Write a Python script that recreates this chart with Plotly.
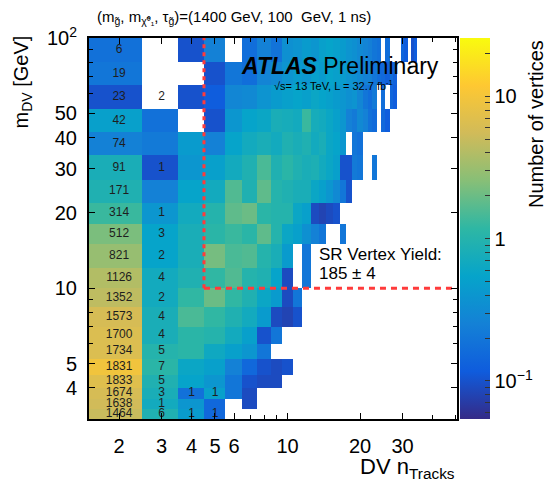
import math
import plotly.graph_objects as go

# ---------------- data ----------------
N = None
# DV nTracks bins (integer bins) and m_DV bin edges [GeV]
ntrk_low, ntrk_high = 2, 50
mass_edges = [3, 3.3, 3.6, 4, 4.5, 5.2, 6, 7, 8.4, 10, 12, 15, 18, 22, 27, 34, 42, 52, 65, 80, 100]

# weighted number of vertices (colour), one list per mass row (bottom -> top), starting at nTracks = 2
row_00 = [5.0, 0.9, 0.45, 0.15]
row_01 = [5.5, 0.7, 0.4, 0.15, N, 0.09]
row_02 = [6.0, 0.8, 0.18, 0.5, 0.2, 0.09]
row_03 = [7.0, 0.9, 0.55, 0.4, 0.2, 0.1, 0.09, 0.09]
row_04 = [9.5, 1.1, 0.6, 0.5, 0.25, 0.15, 0.1, 0.09, 0.1]
row_05 = [6.5, 1.0, 1.1, 0.65, 0.5, 0.4, 0.2]
row_06 = [6.5, 0.8, 1.1, 1.0, 0.7, 0.5, 0.1, 0.2]
row_07 = [6.0, 0.8, 1.5, 1.2, 0.9, 0.7, 0.45, 0.09, 0.08, 0.1]
row_08 = [4.5, 0.7, 1.2, 2.0, 1.2, 0.9, 0.6, 0.45, 0.09, 0.2]
row_09 = [4.0, 0.7, 0.9, 1.2, 1.6, 1.0, 0.9, 0.55, 0.09, N, 0.2]
row_10 = [3.0, 0.55, 0.8, 2.2, 1.5, 1.6, 1.0, 0.8, 0.45, N, 0.2]
row_11 = [2.3, 0.55, 0.8, 1.1, 1.3, 1.1, 1.8, 1.0, 0.6, 0.5, 0.35, 0.25, 0.2, N, N, 0.2]
row_12 = [1.3, 0.4, 0.7, 1.0, 1.8, 2.0, 1.1, 1.0, 1.0, 0.6, 0.5, 0.09, 0.08, 0.09, 0.1]
row_13 = [0.9, 0.25, 0.55, 0.7, 1.6, 0.9, 1.8, 1.0, 0.9, 0.8, 0.8, 0.6, 0.5, 0.4, 0.3, 0.2, 0.1]
row_14 = [0.8, 0.1, 0.4, 0.5, 0.7, 0.9, 1.5, 0.9, 1.1, 0.9, 0.8, 0.85, 0.7, 0.6, 0.5, 0.1, 0.1, 0.22,
          0.2, N, N, 0.2]
row_15 = [0.25, 0.22, 0.45, 0.25, 0.55, 0.7, 0.8, 0.7, 0.9, 0.8, 0.9, 0.7, 0.8, 0.6, 0.55, 0.4, N, 0.2, 0.18]
row_16 = [0.5, 0.18, N, 0.1, 0.4, 0.55, 0.6, 0.8, 0.75, 0.7, 1.3, 0.75, 0.7, 0.6, 0.5, 0.4, 0.25, 0.22,
          0.3, 0.25, 0.18, 0.16, N, 0.15, 0.12]
row_17 = [0.1, N, 0.1, 0.12, 0.28, 0.3, 0.38, 0.45, 0.5, 0.55, 0.5, 0.6, 0.55, 0.5, 0.45, 0.4, 0.35, 0.38,
          0.28, 0.2, 0.17, 0.22, N, 0.17, N, 0.14, 0.12]
row_18 = [0.2, N, N, 0.1, 0.2, 0.17, 0.27, 0.3, 0.38, 0.45, 0.4, 0.5, 0.45, 0.55, 0.5, 0.45, 0.38, 0.35,
          0.3, 0.25, 0.25, 0.2, 0.17, 0.15, 0.13, 0.17, 0.13]
row_19 = [0.18, N, 0.1, 0.25, N, 0.17, 0.25, 0.19, 0.35, 0.38, 0.45, 0.4, 0.5, 0.55, 0.5, 0.45, 0.38, 0.35,
          0.3, 0.27, 0.24, 0.2, 0.18, N, 0.17, N, N, N, 0.14, 0.12, N, 0.1, 0.12]

# raw counts printed in the cells (bottom -> top)
counts_n2 = [1464, 1638, 1674, 1833, 1831, 1734, 1700, 1573, 1352, 1126, 821, 512, 314, 171, 91, 74, 42, 23, 19, 6]
counts_n3 = [6, 1, 3, 5, 7, 5, 4, 4, 2, 4, 2, 3, 1, N, 1, N, N, 2, N, N]
counts_n4 = [1, N, 1] + [N] * 17
counts_n5 = [1, N, 1] + [N] * 17

# colour scale range (number of vertices)
z_min, z_max = 0.054, 25.7

# signal-region cuts
sr_ntrk_cut = 4.5
sr_mass_cut = 10

# ---------------- construction ----------------
rows = [row_00, row_01, row_02, row_03, row_04, row_05, row_06, row_07, row_08, row_09,
        row_10, row_11, row_12, row_13, row_14, row_15, row_16, row_17, row_18, row_19]
ncols = ntrk_high - ntrk_low + 1
ntrk_edges = [n - 0.5 for n in range(ntrk_low, ntrk_high + 2)]
zlog = []
for r in rows:
    full = list(r) + [None] * (ncols - len(r))
    zlog.append([math.log10(v) if v is not None else None for v in full])

kbird = [
    [0.0, "rgb(53,42,135)"], [0.125, "rgb(15,92,221)"], [0.25, "rgb(20,129,214)"],
    [0.375, "rgb(6,164,202)"], [0.5, "rgb(46,183,164)"], [0.625, "rgb(135,191,119)"],
    [0.75, "rgb(209,187,89)"], [0.875, "rgb(254,200,50)"], [1.0, "rgb(249,251,14)"],
]

cb_major = {-1: "10<sup>−1</sup>", 0: "1", 1: "10"}
cb_vals, cb_text = [], []
for dec in [0.01, 0.1, 1, 10]:
    for k in range(1, 10):
        v = k * dec
        if z_min <= v <= z_max:
            lv = math.log10(v)
            cb_vals.append(lv)
            cb_text.append(cb_major.get(round(lv), "") if k == 1 else " ")

# the page body adds an 8 px offset: layout in reference pixels, shifted by OFF
OFF = 8
W, H = 558 - OFF, 489 - OFF
PLOT_L, PLOT_R, PLOT_T, PLOT_B = 89, 457, 38, 419   # reference pixel frame
L, T = PLOT_L - OFF, PLOT_T - OFF
R, B = W - (PLOT_R - OFF), H - (PLOT_B - OFF)
PW, PH = PLOT_R - PLOT_L, PLOT_B - PLOT_T


def px(xp):
    return (xp - PLOT_L) / PW


def py(yp):
    return (PLOT_B - yp) / PH


FONT = "Liberation Sans, Arial, Helvetica, sans-serif"

fig = go.Figure()
fig.add_trace(go.Heatmap(
    x=ntrk_edges, y=mass_edges, z=zlog,
    zmin=math.log10(z_min), zmax=math.log10(z_max),
    colorscale=kbird, zsmooth=False, hoverinfo="skip",
    colorbar=dict(
        x=px(460), xanchor="left", xpad=0, ypad=0, y=0.5, yanchor="middle",
        len=1, lenmode="fraction", thickness=30, outlinewidth=0,
        tickmode="array", tickvals=cb_vals, ticktext=cb_text,
        ticks="inside", ticklen=5, tickcolor="#333", tickwidth=1,
        tickfont=dict(family=FONT, size=20, color="black"),
    ),
))

# cell count labels
centers = [math.sqrt(a * b) for a, b in zip(mass_edges[:-1], mass_edges[1:])]
lab_x, lab_y, lab_t = [], [], []
for n, col in [(2, counts_n2), (3, counts_n3), (4, counts_n4), (5, counts_n5)]:
    for yc, c in zip(centers, col):
        if c is not None:
            lab_x.append(n)
            lab_y.append(yc)
            lab_t.append(str(c))
fig.add_trace(go.Scatter(x=lab_x, y=lab_y, text=lab_t, mode="text", hoverinfo="skip",
                         textfont=dict(family=FONT, size=12, color="#1e1e1e"), showlegend=False))

# signal-region boundary
fig.add_trace(go.Scatter(x=[sr_ntrk_cut, sr_ntrk_cut], y=[sr_mass_cut, mass_edges[-1]], mode="lines",
                         line=dict(color="#ff3b3b", width=3, dash="4px,4px"), hoverinfo="skip",
                         showlegend=False))
fig.add_trace(go.Scatter(x=[sr_ntrk_cut, ntrk_edges[-1]], y=[sr_mass_cut, sr_mass_cut], mode="lines",
                         line=dict(color="#ff3b3b", width=3, dash="6px,5px"), hoverinfo="skip",
                         showlegend=False))

axis_common = dict(
    showline=True, linecolor="black", linewidth=2, mirror="ticks",
    ticks="inside", ticklen=6, tickcolor="black", tickwidth=1,
    showgrid=False, zeroline=False, automargin=False,
    tickfont=dict(family=FONT, size=20, color="black"),
)
fig.update_xaxes(
    type="log", range=[math.log10(ntrk_edges[0]), math.log10(ntrk_edges[-1])],
    tickmode="array", tickvals=[2, 3, 4, 5, 6, 10, 20, 30],
    ticktext=["2", "3", "4", "5", "6", "10", "20", "30"],
    minor=dict(tickmode="array", tickvals=[7, 8, 9, 40, 50], ticks="inside", ticklen=4,
               tickcolor="black"),
    ticklabelstandoff=8, **axis_common)
fig.update_yaxes(
    type="log", range=[math.log10(mass_edges[0]), math.log10(mass_edges[-1])],
    tickmode="array", tickvals=[4, 5, 10, 20, 30, 40, 50, 100],
    ticktext=["4", "5", "10", "20", "30", "40", "50", "10<sup>2</sup>"],
    minor=dict(tickmode="array", tickvals=[6, 7, 8, 9, 60, 70, 80, 90], ticks="inside", ticklen=4,
               tickcolor="black"),
    ticklabelstandoff=6, **axis_common)

ann = []
ann.append(dict(text="(m<sub>g̃</sub>, m<sub>χ̃⁰₁</sub>, τ<sub>g̃</sub>)=(1400 GeV, 100  GeV, 1 ns)",
                x=px(95), y=py(17), xanchor="left", yanchor="middle",
                font=dict(family=FONT, size=15, color="black")))
ann.append(dict(text="<b><i>ATLAS</i></b> Preliminary", x=px(239), y=py(66), xanchor="left",
                yanchor="middle", font=dict(family=FONT, size=23, color="black")))
ann.append(dict(text="√s= 13 TeV, L = 32.7 fb<sup>-1</sup>", x=px(272), y=py(85), xanchor="left",
                yanchor="middle", font=dict(family=FONT, size=11, color="black")))
ann.append(dict(text="SR Vertex Yield:", x=px(317), y=py(254), xanchor="left", yanchor="middle",
                font=dict(family=FONT, size=17, color="black")))
ann.append(dict(text="185 ± 4", x=px(317), y=py(273), xanchor="left", yanchor="middle",
                font=dict(family=FONT, size=17, color="black")))
ann.append(dict(text="DV n<sub>Tracks</sub>", x=px(457), y=py(468), xanchor="right", yanchor="middle",
                font=dict(family=FONT, size=22, color="black")))
ann.append(dict(text="m<sub>DV</sub> [GeV]", x=px(22), y=py(34), xanchor="center", yanchor="top",
                textangle=-90, font=dict(family=FONT, size=20, color="black")))
ann.append(dict(text="Number of vertices", x=px(536), y=py(38), xanchor="center", yanchor="top",
                textangle=-90, font=dict(family=FONT, size=20, color="black")))
for a in ann:
    a.update(xref="paper", yref="paper", showarrow=False)

fig.update_layout(
    width=W, height=H, margin=dict(l=L, r=R, t=T, b=B, pad=0, autoexpand=False),
    paper_bgcolor="white", plot_bgcolor="white", showlegend=False,
    annotations=ann,
)

fig.write_html("out.html")
